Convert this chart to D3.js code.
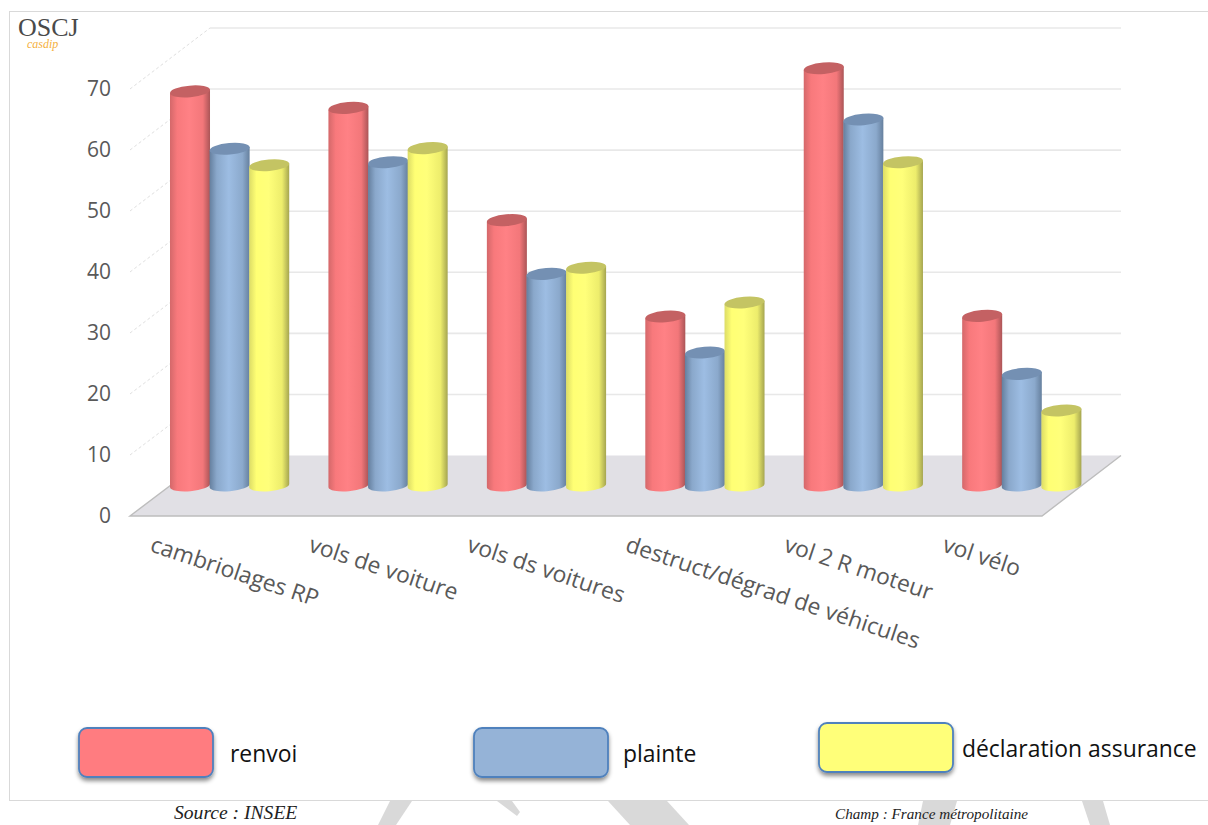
<!DOCTYPE html>
<html lang="fr">
<head>
<meta charset="utf-8">
<title>Suites données aux atteintes aux biens</title>
<script src="https://cdnjs.cloudflare.com/ajax/libs/d3/7.8.5/d3.min.js"></script>
<style>
  html, body { margin: 0; padding: 0; background: #fff; }
  svg { display: block; }
</style>
</head>
<body>
<svg id="chart" width="1208" height="825"></svg>
<script>
// Values per offence type, in percent
const categories = ["cambriolages RP", "vols de voiture", "vols ds voitures", "destruct/dégrad de véhicules", "vol 2 R moteur", "vol vélo"];
const renvoi = [64.6, 61.9, 43.5, 27.7, 68.4, 27.8];
const plainte = [55.2, 53.0, 34.7, 21.8, 60.0, 18.3];
const declaration = [52.5, 55.3, 35.7, 30.0, 53.0, 12.3];
const yTicks = [0, 10, 20, 30, 40, 50, 60, 70];
const seriesNames = ["renvoi", "plainte", "déclaration assurance"];

const seriesValues = [renvoi, plainte, declaration];
const palette = [
  { key: "red", top: "#c46163", flat: "#ff7c80",
    stops: ["#d4686a", "#f8797c", "#ff8185", "#f3777a", "#ab5557"] },
  { key: "blue", top: "#7490b3", flat: "#95b3d7",
    stops: ["#657f9e", "#8aa8cb", "#9dbde3", "#8ba9cc", "#66809e"] },
  { key: "yellow", top: "#c4c463", flat: "#ffff79",
    stops: ["#dcdc66", "#ffff74", "#ffff7a", "#eded6c", "#a5a550"] }
];

const svg = d3.select("#chart");
const defs = svg.append("defs");

// Cylinder shading runs horizontally across each bar
palette.forEach(p => {
  const g = defs.append("linearGradient").attr("id", "cyl-" + p.key)
    .attr("x1", 0).attr("x2", 1).attr("y1", 0).attr("y2", 0);
  [0, 0.18, 0.48, 0.82, 1].forEach((o, i) => {
    g.append("stop").attr("offset", o).attr("stop-color", p.stops[i]);
  });
});

const shadow = defs.append("filter").attr("id", "legend-shadow")
  .attr("x", "-10%").attr("y", "-15%").attr("width", "120%").attr("height", "140%");
shadow.append("feDropShadow").attr("dx", 0).attr("dy", 3).attr("stdDeviation", 2.2)
  .attr("flood-color", "#000").attr("flood-opacity", 0.45);

// Faint background strokes below the frame
const watermark = svg.append("g").attr("fill", "#d9d9d9");
[
  "M390,801 L412,801 L396,825 L378,825 Z",
  "M497,801 L512,801 L520,812 L517,816 Z",
  "M608,801 L667,801 L689,825 L630,825 Z",
  "M923,801 L957,801 L950,825 L918,825 Z",
  "M1082,801 L1103,801 L1110,825 L1090,825 Z"
].forEach(d => watermark.append("path").attr("d", d));

// Outer frame
svg.append("rect").attr("x", 9.5).attr("y", 11.5).attr("width", 1230).attr("height", 789)
  .attr("fill", "#fff").attr("stroke", "#d9d9d9").attr("stroke-width", 1);

// Vertical scales for the three depth planes of the 3D box
const yFront = d3.scaleLinear().domain([0, 70]).range([516, 89]);
const yMid = d3.scaleLinear().domain([0, 70]).range([485.5, 58.5]);
const yBack = d3.scaleLinear().domain([0, 70]).range([455.5, 28]);

const x0 = d3.scaleBand().domain(categories).range([170, 1081]).paddingInner(0.25).paddingOuter(0);
const x1 = d3.scaleBand().domain(d3.range(3)).range([0, x0.bandwidth()]);

const wallLeft = 210, wallRight = 1121, frontLeft = 130, frontRight = 1042;

// Back wall gridlines and dashed side wall lines
svg.append("g").selectAll("line").data(yTicks.filter(t => t > 0)).join("line")
  .attr("x1", wallLeft).attr("x2", wallRight)
  .attr("y1", d => yBack(d)).attr("y2", d => yBack(d))
  .attr("stroke", "#e8e8e8").attr("stroke-width", 1.6);

svg.append("g").selectAll("line").data(yTicks.filter(t => t > 0)).join("line")
  .attr("x1", frontLeft).attr("x2", wallLeft)
  .attr("y1", d => yFront(d)).attr("y2", d => yBack(d))
  .attr("stroke", "#dadada").attr("stroke-width", 0.9).attr("stroke-dasharray", "3 2.5");

// Floor of the box
svg.append("path")
  .attr("d", `M${frontLeft},${yFront(0)} L${wallLeft},${yBack(0)} L${wallRight},${yBack(0)} L${frontRight},${yFront(0)} Z`)
  .attr("fill", "#e1e0e5");
svg.append("path")
  .attr("d", `M${wallLeft},${yBack(0)} L${frontLeft},${yFront(0)} L${frontRight},${yFront(0)} L${wallRight},${yBack(0)}`)
  .attr("fill", "none").attr("stroke", "#bdbdbd").attr("stroke-width", 1.4);

// Tilted cylinder: side wall with a rounded foot, plus an elliptical cap
const ry = 5.8, tilt = -5;
const slope = Math.tan(-tilt * Math.PI / 180);
function sidePath(x, w, top, base) {
  const rx = w / 2, dy = rx * slope;
  return `M${x},${top + dy} L${x},${base + dy} A${rx},${ry} ${tilt} 0 0 ${x + w},${base - dy} L${x + w},${top - dy} Z`;
}
function capPath(x, w, top) {
  const rx = w / 2, dy = rx * slope;
  return `M${x},${top + dy} A${rx},${ry} ${tilt} 0 1 ${x + w},${top - dy} A${rx},${ry} ${tilt} 0 1 ${x},${top + dy} Z`;
}

const groups = svg.append("g").selectAll("g").data(categories).join("g")
  .attr("transform", d => `translate(${x0(d)},0)`);

groups.each(function (cat, ci) {
  const g = d3.select(this);
  seriesValues.forEach((vals, si) => {
    const x = x1(si), w = x1.bandwidth() + 0.4;
    const top = yMid(vals[ci]), base = yMid(0);
    g.append("path").attr("d", sidePath(x, w, top, base)).attr("fill", `url(#cyl-${palette[si].key})`);
    g.append("path").attr("d", capPath(x, w, top)).attr("fill", palette[si].top);
  });
});

// Value axis labels
const axis = d3.axisLeft(yFront).tickValues(yTicks).tickSize(0).tickPadding(0);
const axisG = svg.append("g").attr("transform", "translate(111,0)").call(axis);
axisG.select(".domain").remove();
axisG.selectAll("text").attr("font-family", "'Open Sans'").attr("font-size", 21).attr("fill", "#595959");

// Slanted category labels
svg.append("g").selectAll("text").data(categories).join("text")
  .attr("transform", d => `translate(${x0(d) - 21},551) rotate(18.5)`)
  .attr("font-family", "'Open Sans'").attr("font-size", 22.8).attr("fill", "#595959")
  .text(d => d);

// Legend boxes and labels
const legendBoxX = d3.scaleOrdinal().domain(seriesNames).range([79, 474, 819]);
const legendBoxY = d3.scaleOrdinal().domain(seriesNames).range([728, 728, 723]);
const legendTextX = d3.scaleOrdinal().domain(seriesNames).range([230, 623, 962]);
const legend = svg.append("g").selectAll("g").data(seriesNames).join("g");
legend.append("rect")
  .attr("x", d => legendBoxX(d)).attr("y", d => legendBoxY(d))
  .attr("width", 134).attr("height", 49).attr("rx", 8)
  .attr("fill", (d, i) => palette[i].flat)
  .attr("stroke", "#4f81bd").attr("stroke-width", 1.8)
  .attr("filter", "url(#legend-shadow)");
legend.append("text")
  .attr("x", d => legendTextX(d)).attr("y", d => legendBoxY(d) + 34)
  .attr("font-family", "'Open Sans'").attr("font-size", 22.9).attr("fill", "#111")
  .text(d => d);

// Logo
svg.append("text").attr("x", 18).attr("y", 36)
  .attr("font-family", "'Liberation Serif'").attr("font-size", 26).attr("fill", "#4a4a4a").text("OSCJ");
svg.append("text").attr("x", 27).attr("y", 48)
  .attr("font-family", "'Liberation Serif'").attr("font-style", "italic").attr("font-size", 12)
  .attr("fill", "#f5b040").text("casdip");

// Source notes below the frame
svg.append("text").attr("x", 174).attr("y", 819)
  .attr("font-family", "'Liberation Serif'").attr("font-style", "italic").attr("font-size", 19.6).attr("fill", "#222")
  .text("Source : INSEE");
svg.append("text").attr("x", 835).attr("y", 819)
  .attr("font-family", "'Liberation Serif'").attr("font-style", "italic").attr("font-size", 15.2).attr("fill", "#222")
  .text("Champ : France métropolitaine");
</script>
</body>
</html>
